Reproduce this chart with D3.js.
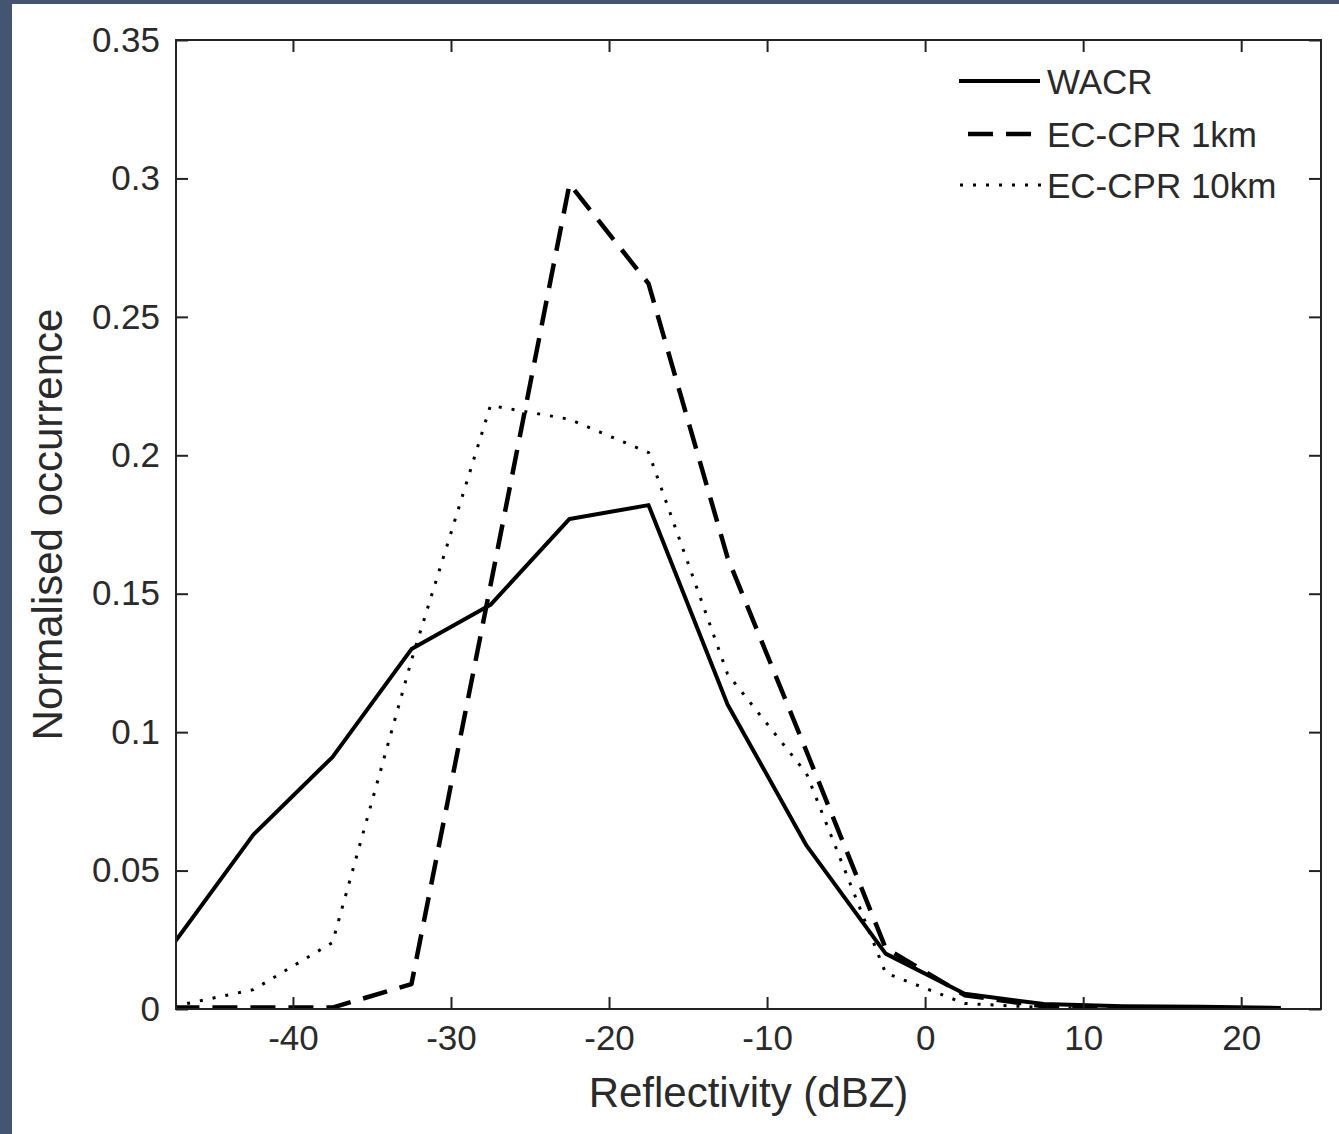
<!DOCTYPE html>
<html>
<head>
<meta charset="utf-8">
<script src="https://cdn.jsdelivr.net/npm/d3@7"></script>
<style>
  html, body { margin: 0; padding: 0; background: #435570; }
  svg { display: block; }
  text { font-family: "Liberation Sans", Arial, Helvetica, sans-serif; fill: #2a2a2a; }
</style>
</head>
<body>
<svg id="chart" width="1339" height="1134"></svg>
<script>
// Reflectivity bin centres (dBZ)
var bins = [-47.5, -42.5, -37.5, -32.5, -27.5, -22.5, -17.5, -12.5, -7.5, -2.5, 2.5, 7.5, 12.5, 17.5, 22.5];

// Normalised occurrence per bin
var wacr    = [0.024, 0.063, 0.091, 0.130, 0.146, 0.177, 0.182, 0.110, 0.059, 0.020, 0.0055, 0.0018, 0.0010, 0.0008, 0.0004];
var cpr1km  = [0.0005, 0.0005, 0.0005, 0.009, 0.153, 0.298, 0.262, 0.163, 0.093, 0.022, 0.0050, 0.0010, 0.0005, 0.0003, 0.0002];
var cpr10km = [0.001, 0.007, 0.024, 0.126, 0.218, 0.213, 0.201, 0.121, 0.085, 0.013, 0.0020, 0.0005, 0.0002, 0.0001, 0.0001];

var seriesNames = ['WACR', 'EC-CPR 1km', 'EC-CPR 10km'];
var xTicks = [-40, -30, -20, -10, 0, 10, 20];
var yTicks = [0, 0.05, 0.1, 0.15, 0.2, 0.25, 0.3, 0.35];

var width = 1339,
    height = 1134,
    margin = {top: 40, right: 18, bottom: 125, left: 176};

var svg = d3.select('#chart');

// White page with the dark frame showing on the top and left
svg.append('rect')
    .attr('x', 12).attr('y', 4)
    .attr('width', width - 12).attr('height', height - 4)
    .attr('fill', '#fff');

var x = d3.scaleLinear()
    .domain([-47.4, 25.05])
    .range([margin.left, width - margin.right]);

var y = d3.scaleLinear()
    .domain([0, 0.35])
    .range([height - margin.bottom, margin.top]);

var x0 = x.range()[0], x1 = x.range()[1],
    y0 = y.range()[0], y1 = y.range()[1];

svg.append('clipPath')
    .attr('id', 'plot-clip')
  .append('rect')
    .attr('x', x0).attr('y', y1)
    .attr('width', x1 - x0).attr('height', y0 - y1);

// Line styles, one per series
var styles = [
    {values: wacr,    width: 4,   dash: null},
    {values: cpr1km,  width: 4.5, dash: '25,13'},
    {values: cpr10km, width: 3,   dash: '3,10'}
];

var line = d3.line()
    .x(function(d) { return x(d[0]); })
    .y(function(d) { return y(d[1]); });

var g = svg.append('g')
    .attr('clip-path', 'url(#plot-clip)');

styles.forEach(function(s) {
    g.append('path')
        .datum(bins.map(function(b, i) { return [b, s.values[i]]; }))
        .attr('d', line)
        .attr('fill', 'none')
        .attr('stroke', '#000')
        .attr('stroke-width', s.width)
        .attr('stroke-linejoin', 'round')
        .attr('stroke-dasharray', s.dash);
});

// Axes: ticks pointing inward on all four sides
var axisStyle = function(sel) {
    sel.select('.domain').remove();
    sel.selectAll('line').attr('stroke', '#222').attr('stroke-width', 2);
    sel.selectAll('text').style('font-size', '35px').attr('fill', '#2a2a2a');
};

// plain hyphen for negatives, like the original figure
var plain = function(d) { return String(d); };

svg.append('g')
    .attr('transform', 'translate(0,' + y0 + ')')
    .call(d3.axisBottom(x).tickValues(xTicks).tickSizeInner(-12).tickFormat(plain))
    .call(axisStyle)
    .selectAll('text').attr('dy', '0.71em').attr('y', 16);

svg.append('g')
    .attr('transform', 'translate(0,' + y1 + ')')
    .call(d3.axisTop(x).tickValues(xTicks).tickSizeInner(-12).tickFormat(''))
    .call(axisStyle);

svg.append('g')
    .attr('transform', 'translate(' + x0 + ',0)')
    .call(d3.axisLeft(y).tickValues(yTicks).tickSizeInner(-12).tickFormat(plain))
    .call(axisStyle)
    .selectAll('text').attr('x', -16);

svg.append('g')
    .attr('transform', 'translate(' + x1 + ',0)')
    .call(d3.axisRight(y).tickValues(yTicks).tickSizeInner(-12).tickFormat(''))
    .call(axisStyle);

// Plot box
svg.append('rect')
    .attr('x', x0).attr('y', y1)
    .attr('width', x1 - x0).attr('height', y0 - y1)
    .attr('fill', 'none')
    .attr('stroke', '#222')
    .attr('stroke-width', 2);

// Axis titles
svg.append('text')
    .attr('x', (x0 + x1) / 2)
    .attr('y', 1107)
    .attr('text-anchor', 'middle')
    .style('font-size', '42px')
    .text('Reflectivity (dBZ)');

svg.append('text')
    .attr('transform', 'translate(62,' + (y0 + y1) / 2 + ') rotate(-90)')
    .attr('text-anchor', 'middle')
    .style('font-size', '42px')
    .text('Normalised occurrence');

// Legend
var legend = svg.append('g');
var legendY = [81, 134, 185];
var legendX = [[959, 1040], [968, 1036], [960, 1044]];

styles.forEach(function(s, i) {
    legend.append('line')
        .attr('x1', legendX[i][0]).attr('x2', legendX[i][1])
        .attr('y1', legendY[i]).attr('y2', legendY[i])
        .attr('stroke', '#000')
        .attr('stroke-width', s.width)
        .attr('stroke-dasharray', s.dash);
    legend.append('text')
        .attr('x', 1047)
        .attr('y', legendY[i] + 13)
        .style('font-size', '35px')
        .text(seriesNames[i]);
});
</script>
</body>
</html>
